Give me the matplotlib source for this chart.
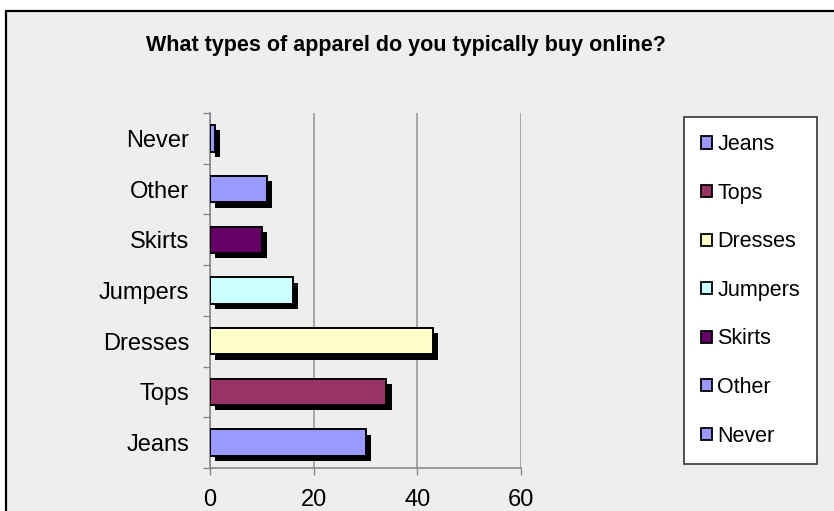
import matplotlib
matplotlib.use('Agg')
import matplotlib.pyplot as plt
import matplotlib.patheffects as pe
from matplotlib.patches import Rectangle, Patch
import numpy as np

plt.rcParams['font.family'] = ['Liberation Sans', 'DejaVu Sans']

# Survey answers (percent of respondents)
categories = ['Jeans', 'Tops', 'Dresses', 'Jumpers', 'Skirts', 'Other', 'Never']
values = [30, 34, 43, 16, 10, 11, 1]
colors = ['#9999FF', '#993366', '#FFFFCC', '#CCFFFF', '#660066', '#9999FF', '#9999FF']
x_ticks = [0, 20, 40, 60]

fig = plt.figure(figsize=(8.34, 5.11), dpi=100)
fig.patch.set_facecolor('white')

# gray chart area with a black frame
fig.patches.append(Rectangle((6 / 834, -0.1), 1.0, 1 - 11.5 / 511 + 0.1,
                             transform=fig.transFigure, facecolor='#EEEEEE',
                             edgecolor='black', linewidth=1.6, zorder=-5))

ax = fig.add_axes([210 / 834, 1 - 468 / 511, 311 / 834, 355 / 511])
ax.set_facecolor('none')

shadow = [pe.SimplePatchShadow(offset=(3.8, -3.8), shadow_rgbFace='black', alpha=1.0),
          pe.Normal()]

y = np.arange(len(categories))
handles = []
for i, (cat, val, col) in enumerate(zip(categories, values, colors)):
    bars = ax.barh(y[i], val, height=0.52, color=col, edgecolor='black',
                   linewidth=1.4, zorder=3, label=cat)
    for b in bars:
        b.set_path_effects(shadow)
    handles.append(Patch(facecolor=col, edgecolor='black', linewidth=1.3, label=cat))

ax.set_xlim(0, 60)
ax.set_ylim(-0.5, len(categories) - 0.5)
ax.set_xticks(x_ticks)
ax.set_yticks(y)
ax.set_yticklabels(categories)
ax.set_yticks(np.arange(-0.5, len(categories)), minor=True)

ax.tick_params(axis='y', which='major', length=0, pad=15, labelsize=17)
ax.tick_params(axis='y', which='minor', length=5, color='#888888', width=1)
ax.tick_params(axis='x', length=5, color='#888888', width=1, pad=10, labelsize=17)

ax.grid(axis='x', color='#999999', linewidth=1.2, zorder=1)
for s in ['top', 'right']:
    ax.spines[s].set_visible(False)
for s in ['left', 'bottom']:
    ax.spines[s].set_color('#888888')
    ax.spines[s].set_linewidth(1.2)

fig.text(406 / 834, 1 - 46 / 511, 'What types of apparel do you typically buy online?',
         ha='center', va='center', fontsize=15.5, fontweight='bold')

leg = fig.legend(handles=handles, loc='upper left',
                 bbox_to_anchor=(684 / 834, 1 - 117 / 511),
                 frameon=True, fancybox=False, edgecolor='#333333', framealpha=1,
                 fontsize=15.5, handlelength=0.5, handleheight=0.5,
                 handletextpad=0.25, labelspacing=1.28, borderpad=0.8,
                 borderaxespad=0)
leg.get_frame().set_linewidth(1.2)
leg.get_frame().set_facecolor('white')

fig.savefig('out.png', dpi=100)
